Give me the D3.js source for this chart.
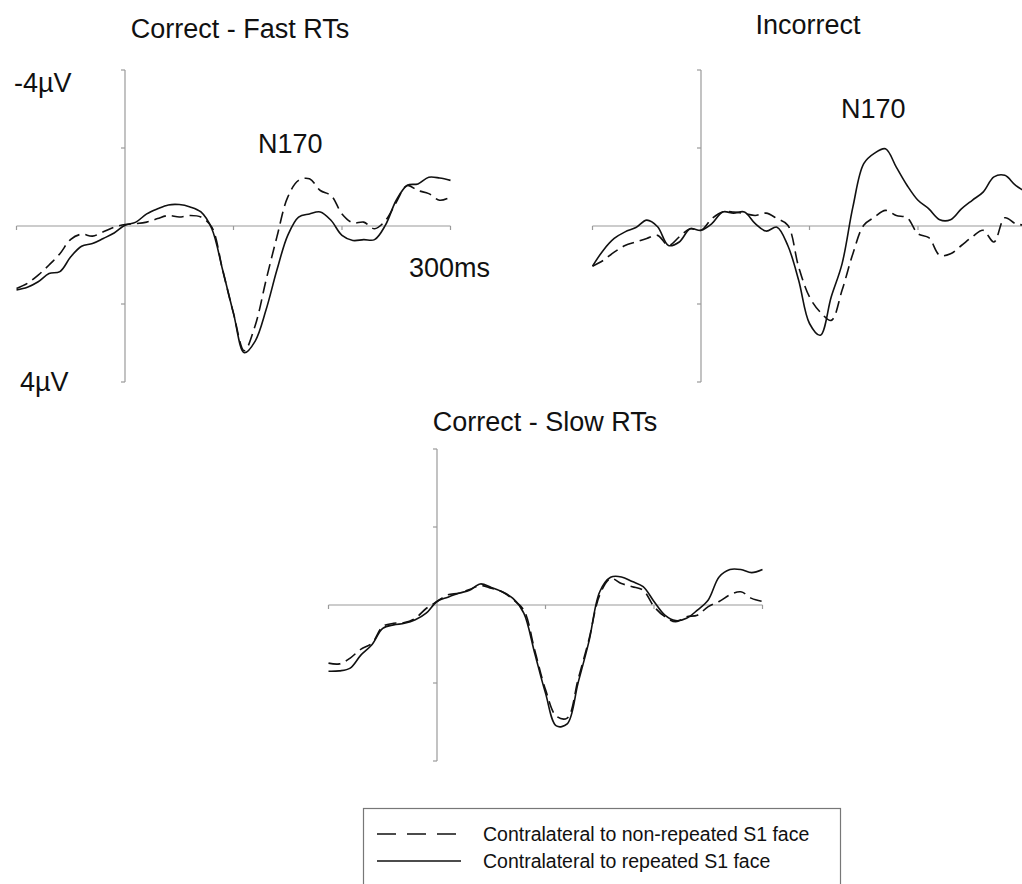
<!DOCTYPE html>
<html lang="en">
<head>
    <meta charset="UTF-8">
    <title>N170 waveforms</title>
    <style>
        body { margin: 0; background: #fff; }
        svg text { font-family: "Liberation Sans", Arial, sans-serif; fill: #111; }
        .axis line { stroke: #9a9a9a; stroke-width: 1.2; }
        .wave { fill: none; stroke: #111; stroke-width: 1.6; }
    </style>
</head>
<body>
    <div id="chart"></div>

    <script src="https://d3js.org/d3.v7.min.js"></script>

    <script>
        // time points in ms
        const time = [-100, -90, -80, -70, -60, -50, -40, -30, -20, -10, 0, 10, 20, 30, 40, 50, 60, 70, 80, 90,
                      100, 110, 120, 130, 140, 150, 160, 170, 180, 190, 200, 210, 220, 230, 240, 250, 260, 270, 280, 290, 300];

        // amplitudes in microvolts (negative is plotted up)
        const fastRepeated = [1.64, 1.57, 1.43, 1.22, 1.17, 0.79, 0.52, 0.45, 0.32, 0.18, -0.02, -0.10, -0.31, -0.44, -0.54, -0.55, -0.49, -0.36, 0.07, 1.13,
                              2.24, 3.25, 2.95, 2.15, 1.13, 0.24, -0.23, -0.31, -0.36, -0.14, 0.24, 0.37, 0.35, 0.35, -0.02, -0.66, -1.04, -1.08, -1.25, -1.23, -1.17];
        const fastNonRepeated = [1.60, 1.47, 1.26, 1.00, 0.71, 0.34, 0.21, 0.26, 0.15, 0.03, -0.04, -0.06, -0.10, -0.19, -0.27, -0.23, -0.27, -0.23, 0.03, 1.13,
                                 2.24, 3.20, 2.55, 1.39, 0.28, -0.74, -1.17, -1.21, -0.91, -0.78, -0.31, -0.08, -0.10, 0.07, -0.14, -0.61, -1.04, -0.91, -0.83, -0.66, -0.74];

        const incRepeated = [1.03, 0.62, 0.32, 0.15, 0.04, -0.15, 0.02, 0.50, 0.41, 0.07, 0.11, -0.06, -0.36, -0.33, -0.36, -0.06, 0.13, 0.03, 0.50, 1.39,
                             2.50, 2.80, 1.82, 0.97, -0.49, -1.60, -1.87, -1.98, -1.51, -1.04, -0.66, -0.44, -0.16, -0.16, -0.44, -0.66, -0.87, -1.26, -1.30, -1.04, -0.87];
        const incNonRepeated = [1.03, 0.88, 0.67, 0.50, 0.41, 0.32, 0.24, 0.50, 0.28, 0.07, 0.11, -0.19, -0.36, -0.36, -0.32, -0.27, -0.33, -0.19, -0.02, 1.05,
                                1.82, 2.21, 2.42, 1.65, 0.71, -0.02, -0.23, -0.40, -0.27, -0.21, 0.20, 0.30, 0.75, 0.71, 0.50, 0.28, 0.11, 0.41, -0.21, -0.06, -0.02];

        const slowRepeated = [1.70, 1.69, 1.62, 1.28, 1.02, 0.60, 0.51, 0.47, 0.38, 0.21, -0.09, -0.20, -0.30, -0.38, -0.54, -0.45, -0.34, -0.17, 0.21, 1.23,
                              2.26, 3.10, 3.05, 2.00, 0.94, -0.34, -0.71, -0.72, -0.60, -0.47, -0.09, 0.26, 0.40, 0.34, 0.13, -0.13, -0.72, -0.91, -0.91, -0.83, -0.91];
        const slowNonRepeated = [1.49, 1.51, 1.36, 1.13, 0.98, 0.55, 0.47, 0.45, 0.34, 0.09, -0.09, -0.26, -0.30, -0.40, -0.50, -0.43, -0.34, -0.14, 0.13, 1.15,
                                 2.17, 2.85, 2.90, 1.91, 0.89, -0.26, -0.68, -0.55, -0.47, -0.38, 0.04, 0.30, 0.43, 0.30, 0.26, 0.04, -0.09, -0.26, -0.34, -0.17, -0.09];

        const xTicks = [-100, 100, 200, 300];
        const yTicks = [-4, -2, 2, 4];

        const legendLabels = ["Contralateral to non-repeated S1 face", "Contralateral to repeated S1 face"];

        const width = 1022;
        const height = 884;

        const svg = d3.select("#chart").append("svg")
            .attr("width", width)
            .attr("height", height);

        // one panel: origin is where 0 ms meets 0 µV
        function drawPanel(ox, oy, title, titleX, titleY, solid, dashed) {
            const x = d3.scaleLinear().domain([-100, 300]).range([ox - 108.5, ox + 325.5]);
            const y = d3.scaleLinear().domain([-4, 4]).range([oy - 156, oy + 156]);

            const g = svg.append("g").attr("class", "axis");

            // zero line (time axis)
            g.append("line")
                .attr("x1", x(-100)).attr("x2", x(300))
                .attr("y1", y(0)).attr("y2", y(0));
            g.selectAll(".xt").data(xTicks).enter().append("line")
                .attr("x1", d => x(d)).attr("x2", d => x(d))
                .attr("y1", y(0)).attr("y2", y(0) + 4);

            // voltage axis at stimulus onset
            g.append("line")
                .attr("x1", x(0)).attr("x2", x(0))
                .attr("y1", y(-4)).attr("y2", y(4));
            g.selectAll(".yt").data(yTicks).enter().append("line")
                .attr("x1", x(0) - 4).attr("x2", x(0))
                .attr("y1", d => y(d)).attr("y2", d => y(d));

            const line = d3.line()
                .x((d, i) => x(time[i]))
                .y(d => y(d))
                .curve(d3.curveCatmullRom.alpha(0.5));

            svg.append("path")
                .attr("class", "wave")
                .attr("stroke-dasharray", "12,6")
                .attr("d", line(dashed));

            svg.append("path")
                .attr("class", "wave")
                .attr("d", line(solid));

            svg.append("text")
                .attr("x", titleX).attr("y", titleY)
                .attr("text-anchor", "middle")
                .style("font-size", "27px")
                .text(title);
        }

        drawPanel(125, 226, "Correct - Fast RTs", 240, 38, fastRepeated, fastNonRepeated);
        drawPanel(701, 226, "Incorrect", 808, 34, incRepeated, incNonRepeated);
        drawPanel(437, 605, "Correct - Slow RTs", 545, 431, slowRepeated, slowNonRepeated);

        // annotations
        const labels = [
            { t: "-4\u00b5V", x: 14, y: 92 },
            { t: "4\u00b5V", x: 20, y: 391 },
            { t: "N170", x: 258, y: 153 },
            { t: "N170", x: 841, y: 118 },
            { t: "300ms", x: 409, y: 277 }
        ];
        svg.selectAll(".lab").data(labels).enter().append("text")
            .attr("x", d => d.x).attr("y", d => d.y)
            .style("font-size", "27px")
            .text(d => d.t);

        // legend
        const legend = svg.append("g");
        legend.append("rect")
            .attr("x", 363.5).attr("y", 808.5)
            .attr("width", 477).attr("height", 90)
            .attr("fill", "none")
            .attr("stroke", "#777")
            .attr("stroke-width", 1.2);

        legendLabels.forEach((lab, i) => {
            const ly = 834 + i * 27;
            legend.append("line")
                .attr("x1", 377).attr("x2", i === 0 ? 457 : 461)
                .attr("y1", ly).attr("y2", ly)
                .attr("stroke", "#111")
                .attr("stroke-width", 1.6)
                .attr("stroke-dasharray", i === 0 ? "19,11" : null);
            legend.append("text")
                .attr("x", 483).attr("y", ly + 7)
                .style("font-size", "19.5px")
                .text(lab);
        });
    </script>
</body>
</html>
